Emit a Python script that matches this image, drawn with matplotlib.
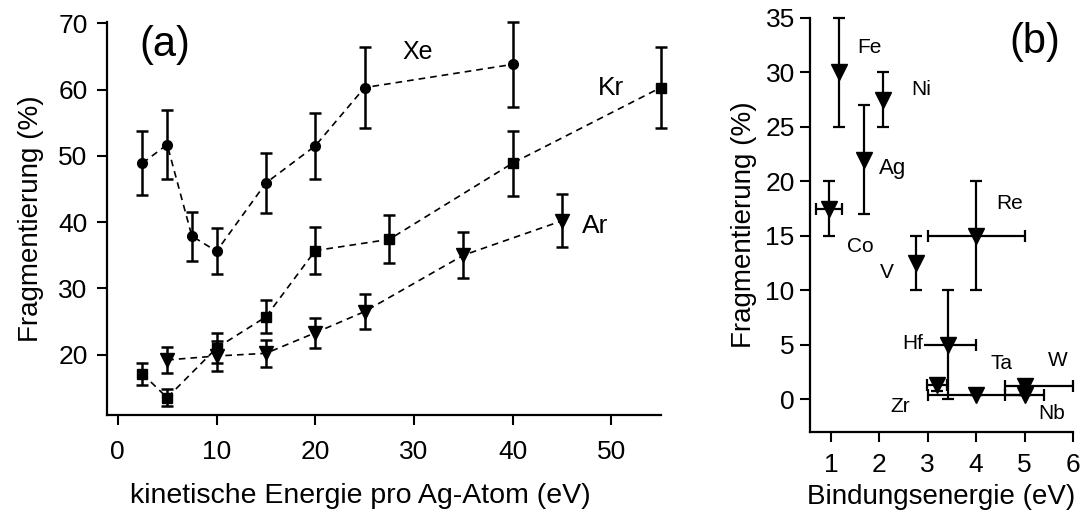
import matplotlib
matplotlib.use('Agg')
import matplotlib.pyplot as plt
import numpy as np

plt.rcParams['font.family'] = ['Liberation Sans', 'DejaVu Sans']

# (a) Fragmentierung vs. kinetische Energie
xe_x = [2.5, 5, 7.5, 10, 15, 20, 25, 40]
xe_y = [48.9, 51.7, 37.9, 35.6, 45.9, 51.5, 60.3, 63.8]
xe_err = [4.8, 5.2, 3.7, 3.5, 4.5, 5.0, 6.1, 6.4]

kr_x = [2.5, 5, 10, 15, 20, 27.5, 40, 55]
kr_y = [17.1, 13.5, 21.0, 25.7, 35.7, 37.4, 48.9, 60.3]
kr_err = [1.7, 1.3, 2.2, 2.5, 3.5, 3.6, 4.9, 6.1]

ar_x = [5, 10, 15, 20, 25, 35, 45]
ar_y = [19.2, 19.8, 20.2, 23.3, 26.5, 35.0, 40.2]
ar_err = [1.9, 2.2, 2.0, 2.3, 2.6, 3.5, 4.0]

# (b) Fragmentierung vs. Bindungsenergie
elements = ['Fe', 'Ni', 'Ag', 'Co', 'V', 'Re', 'Hf', 'Zr', 'Ta', 'Nb', 'W']
bind_e = [1.17, 2.07, 1.68, 0.96, 2.75, 4.0, 3.42, 3.19, 4.0, 5.0, 5.0]
frag = [30.0, 27.5, 22.0, 17.5, 12.5, 15.0, 5.0, 1.3, 0.4, 0.4, 1.2]
frag_err = [5.0, 2.5, 5.0, 2.5, 2.5, 5.0, 5.0, 0.5, 0.0, 0.0, 0.0]
bind_err_lo = [0, 0, 0, 0.27, 0, 1.0, 0.58, 0.2, 1.0, 0.4, 0.4]
bind_err_hi = [0, 0, 0, 0.27, 0, 1.0, 0.58, 0.2, 1.0, 0.4, 1.0]

# label positions in panel (b)
label_pos = {'Fe': (1.79, 32.3), 'Ni': (2.86, 28.4), 'Ag': (2.28, 21.2),
             'Co': (1.60, 14.0), 'V': (2.16, 11.6), 'Re': (4.70, 18.0),
             'Hf': (2.70, 5.1), 'Zr': (2.43, -0.7), 'Ta': (4.53, 3.3),
             'Nb': (5.55, -1.3), 'W': (5.69, 3.6)}

fig = plt.figure(figsize=(10.88, 5.12), dpi=100)
ax1 = fig.add_axes([0.0983, 0.1895, 0.509, 0.7676])
ax2 = fig.add_axes([0.7445, 0.1563, 0.2417, 0.8086])

eb = dict(color='k', ls=(0, (4, 3)), lw=1.2, elinewidth=1.8,
          capsize=4.5, capthick=1.8, clip_on=False)
ax1.errorbar(xe_x, xe_y, yerr=xe_err, marker='o', ms=7, **eb)
ax1.errorbar(kr_x, kr_y, yerr=kr_err, marker='s', ms=6.5, **eb)
ax1.errorbar(ar_x, ar_y, yerr=ar_err, marker='v', ms=10, **eb)

ax1.text(30.4, 65.6, 'Xe', fontsize=18, ha='center', va='center')
ax1.text(50.0, 60.3, 'Kr', fontsize=19, ha='center', va='center')
ax1.text(48.4, 39.4, 'Ar', fontsize=19, ha='center', va='center')
ax1.text(4.8, 66.7, '(a)', fontsize=30, ha='center', va='center')

ax1.set_xlim(-1.1, 55)
ax1.set_ylim(10.9, 70.2)
ax1.set_xticks([0, 10, 20, 30, 40, 50])
ax1.set_yticks([20, 30, 40, 50, 60, 70])
ax1.set_xlabel('kinetische Energie pro Ag-Atom (eV)', fontsize=20.5)
ax1.xaxis.set_label_coords(0.457, -0.172, transform=ax1.transAxes)
ax1.xaxis.label.set_va('top')
ax1.set_ylabel('Fragmentierung (%)', fontsize=20, labelpad=10)

ax2.errorbar(bind_e, frag, yerr=frag_err, xerr=[bind_err_lo, bind_err_hi],
             fmt='v', color='k', ms=11, elinewidth=1.6, capsize=4,
             capthick=1.6, clip_on=False)
for el in elements:
    tx, ty = label_pos[el]
    bg = dict(facecolor='white', edgecolor='none', pad=0) if el == 'Hf' else None
    size = 16 if el == 'Ag' else 15
    ax2.text(tx, ty, el, fontsize=size, ha='center', va='center', bbox=bg, zorder=5)
ax2.text(5.21, 32.8, '(b)', fontsize=30, ha='center', va='center')

ax2.set_xlim(0.57, 6.0)
ax2.set_ylim(-3.0, 35.0)
ax2.set_xticks([1, 2, 3, 4, 5, 6])
ax2.set_yticks([0, 5, 10, 15, 20, 25, 30, 35])
ax2.set_xlabel('Bindungsenergie (eV)', fontsize=20, labelpad=5)
ax2.set_ylabel('Fragmentierung (%)', fontsize=20, labelpad=6)

for ax in (ax1, ax2):
    ax.spines['top'].set_visible(False)
    ax.spines['right'].set_visible(False)
    ax.spines['left'].set_linewidth(1.6)
    ax.spines['bottom'].set_linewidth(1.6)
    ax.tick_params(direction='out', length=7, width=1.5, labelsize=19, pad=4)
ax1.tick_params(axis='x', pad=11)
ax1.tick_params(axis='y', pad=7)
ax2.tick_params(axis='x', pad=8)

fig.savefig('out.png', dpi=100)
